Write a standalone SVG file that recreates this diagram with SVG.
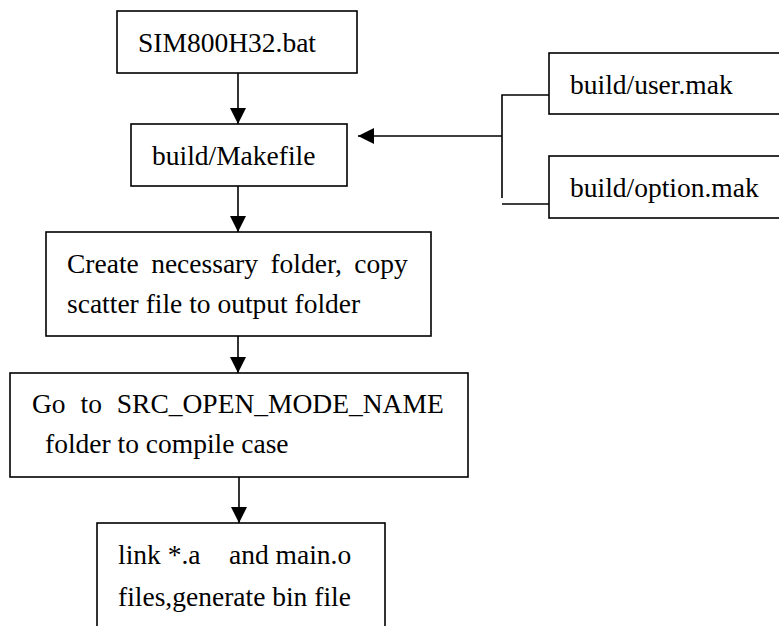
<svg xmlns="http://www.w3.org/2000/svg" width="779" height="626" viewBox="0 0 779 626">
<style>
.box{fill:#fff;stroke:#000;stroke-width:1.6}
.t{font-family:'Liberation Serif','Times New Roman','DejaVu Serif',serif;font-size:27.5px;fill:#000}
.ln{fill:none;stroke:#000;stroke-width:1.6}
</style>
<defs>
<marker id="ah" markerUnits="userSpaceOnUse" markerWidth="16" markerHeight="16" viewBox="0 0 16 16" refX="16" refY="8" orient="auto">
<path d="M0,0 L16,8 L0,16 Z" fill="#000"/>
</marker>
</defs>
<rect width="779" height="626" fill="#fff"/>
<g id="connectors">
<line class="ln" x1="238" y1="73" x2="238" y2="124" marker-end="url(#ah)"/>
<line class="ln" x1="238" y1="186" x2="238" y2="232" marker-end="url(#ah)"/>
<line class="ln" x1="238" y1="336" x2="238" y2="373" marker-end="url(#ah)"/>
<line class="ln" x1="239" y1="477" x2="239" y2="523" marker-end="url(#ah)"/>
<polyline class="ln" points="549,95 502,95 502,198"/>
<line class="ln" x1="502" y1="204" x2="549" y2="204"/>
<line class="ln" x1="502" y1="136" x2="358" y2="136" marker-end="url(#ah)"/>
</g>
<g id="sim">
<rect class="box" x="117" y="11" width="240" height="62"/>
<text class="t" font-family="Liberation Serif, serif" x="138" y="52">SIM800H32.bat</text>
</g>
<g id="makefile">
<rect class="box" x="131" y="124" width="216" height="62"/>
<text class="t" font-family="Liberation Serif, serif" x="152" y="165">build/Makefile</text>
</g>
<g id="usermak">
<rect class="box" x="549" y="53" width="250" height="61"/>
<text class="t" font-family="Liberation Serif, serif" x="570" y="94">build/user.mak</text>
</g>
<g id="optionmak">
<rect class="box" x="549" y="156" width="250" height="62"/>
<text class="t" font-family="Liberation Serif, serif" x="570" y="197">build/option.mak</text>
</g>
<g id="create">
<rect class="box" x="46" y="232" width="385" height="104"/>
<text class="t" font-family="Liberation Serif, serif" x="67" y="273" word-spacing="5.5">Create necessary folder, copy</text>
<text class="t" font-family="Liberation Serif, serif" x="67" y="313">scatter file to output folder</text>
</g>
<g id="goto">
<rect class="box" x="10" y="373" width="458" height="104"/>
<text class="t" font-family="Liberation Serif, serif" x="32" y="413" word-spacing="8">Go to SRC_OPEN_MODE_NAME</text>
<text class="t" font-family="Liberation Serif, serif" x="45" y="453">folder to compile case</text>
</g>
<g id="link">
<rect class="box" x="97" y="523" width="288" height="120"/>
<text class="t" font-family="Liberation Serif, serif" x="118" y="564">link *.a<tspan x="229">and main.o</tspan></text>
<text class="t" font-family="Liberation Serif, serif" x="118" y="606">files,generate bin file</text>
</g>
</svg>
